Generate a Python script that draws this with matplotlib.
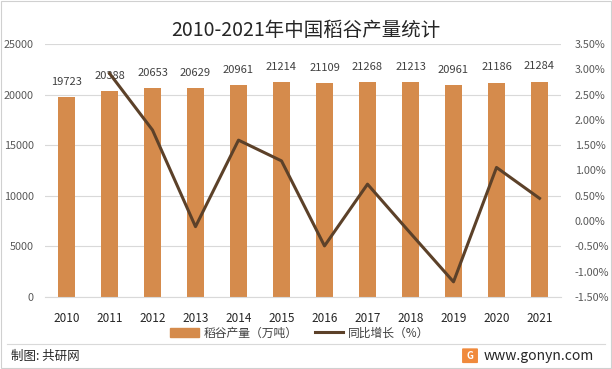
import matplotlib.pyplot as plt
import numpy as np
from matplotlib.patches import Rectangle, FancyBboxPatch
from matplotlib.lines import Line2D

plt.rcParams['font.family'] = ['Noto Sans CJK SC', 'DejaVu Sans']

# data
years = ['2010', '2011', '2012', '2013', '2014', '2015', '2016', '2017', '2018', '2019', '2020', '2021']
output = [19723, 20388, 20653, 20629, 20961, 21214, 21109, 21268, 21213, 20961, 21186, 21284]
growth = [np.nan, 2.92, 1.80, -0.11, 1.60, 1.19, -0.49, 0.73, -0.24, -1.20, 1.06, 0.45]

bar_color = '#D58B4C'
line_color = '#5C4129'
grid_color = '#D9D9D9'
text_color = '#595959'

fig = plt.figure(figsize=(6.12, 3.69), dpi=100)
ax = fig.add_axes([0.0735, 0.1951, 0.8432, 0.6857])
x = np.arange(len(years))

bars = ax.bar(x, output, width=0.39, color=bar_color, zorder=2)
for xi, v in zip(x, output):
    ax.text(xi, v + 1000, str(v), ha='center', va='bottom', fontsize=8, color='#404040', zorder=4)

ax.set_ylim(0, 25000)
ax.set_yticks(range(0, 25001, 5000))
ax.set_xlim(-0.5, len(years) - 0.5)
ax.set_xticks(x)
ax.set_xticklabels(years, fontsize=8.5, color='#262626')
ax.tick_params(axis='y', length=0, labelsize=7.8, labelcolor=text_color, pad=8)
ax.tick_params(axis='x', length=0, pad=11)
ax.grid(axis='y', color=grid_color, linewidth=0.8, zorder=0)
for s in ['top', 'right', 'left']:
    ax.spines[s].set_visible(False)
ax.spines['bottom'].set_color(grid_color)

ax2 = ax.twinx()
ax2.plot(x, growth, color=line_color, linewidth=2.2, zorder=3)
ax2.set_ylim(-1.5, 3.5)
ax2.set_yticks(np.arange(-1.5, 3.51, 0.5))
ax2.set_yticklabels([f'{t:.2f}%' for t in np.arange(-1.5, 3.51, 0.5)])
ax2.tick_params(axis='y', length=0, labelsize=7.8, labelcolor=text_color, pad=10)
for s in ['top', 'right', 'left', 'bottom']:
    ax2.spines[s].set_visible(False)

fig.text(0.5, 0.918, '2010-2021年中国稻谷产量统计', ha='center', va='center', fontsize=14, color='#262626')

handles = [Rectangle((0, 0), 1, 1, color=bar_color),
           Line2D([0], [0], color=line_color, linewidth=2.2)]
fig.legend(handles, ['稻谷产量（万吨）', '同比增长（%）'], loc='center', bbox_to_anchor=(0.49, 0.097),
           ncol=2, frameon=False, fontsize=8.5, handlelength=2.4, handleheight=0.8, columnspacing=1.5,
           handletextpad=0.4, labelcolor='#404040')

# footer
fig.add_artist(Line2D([0.012, 0.988], [0.068, 0.068], color='#D9D9D9', linewidth=0.8))
fig.text(0.018, 0.035, '制图: 共研网', ha='left', va='center', fontsize=9, color='#262626')
fig.add_artist(FancyBboxPatch((0.757, 0.018), 0.022, 0.036, boxstyle='round,pad=0.002',
                              facecolor='#F08A3C', edgecolor='none', transform=fig.transFigure))
fig.text(0.768, 0.036, 'G', ha='center', va='center', fontsize=7, color='white', fontweight='bold')
fig.text(0.79, 0.035, 'www.gonyn.com', ha='left', va='center', fontsize=10, color='#262626')

fig.add_artist(Rectangle((0.002, 0.002), 0.996, 0.996, transform=fig.transFigure,
                         fill=False, edgecolor='#D0D0D0', linewidth=0.8))

fig.savefig('out.png', dpi=100)
